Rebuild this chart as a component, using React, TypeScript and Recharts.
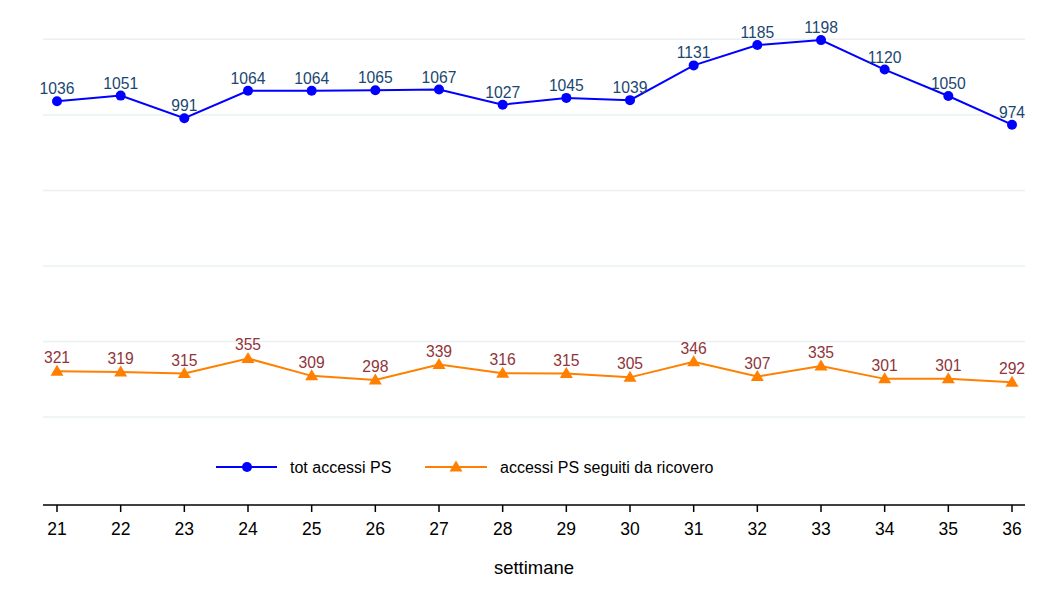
import React from 'react';
import { LineChart, Line, XAxis, YAxis, CartesianGrid, Legend, LabelList } from 'recharts';

const weeks = ['21', '22', '23', '24', '25', '26', '27', '28', '29', '30', '31', '32', '33', '34', '35', '36'];
const totAccessi = [1036, 1051, 991, 1064, 1064, 1065, 1067, 1027, 1045, 1039, 1131, 1185, 1198, 1120, 1050, 974];
const accessiRicovero = [321, 319, 315, 355, 309, 298, 339, 316, 315, 305, 346, 307, 335, 301, 301, 292];
const gridTicks = [200, 400, 600, 800, 1000, 1200];
const seriesNames = ['tot accessi PS', 'accessi PS seguiti da ricovero'];
const xTitle = 'settimane';

const data = weeks.map((w, i) => ({ week: w, tot: totAccessi[i], ric: accessiRicovero[i] }));

const BLUE = '#0000ff';
const ORANGE = '#ff8000';
const FONT = '"Liberation Sans", Arial, Helvetica, sans-serif';

const Triangle = (props: any) => {
  const { cx, cy, index } = props;
  if (cx == null || cy == null) return null;
  return (
    <path
      key={`tri-${index}`}
      d={`M${cx},${cy - 6.5} L${cx + 6.5},${cy + 4.5} L${cx - 6.5},${cy + 4.5} Z`}
      fill={ORANGE}
    />
  );
};

const renderLegend = () => (
  <svg width={540} height={30} style={{ display: 'block', overflow: 'visible' }}>
    <line x1={8} y1={15} x2={69} y2={15} stroke={BLUE} strokeWidth={2} />
    <circle cx={39} cy={15} r={5} fill={BLUE} />
    <text x={82} y={15} dy="0.35em" fontSize={16} fontFamily={FONT} fill="#000">
      {seriesNames[0]}
    </text>
    <line x1={217} y1={15} x2={279} y2={15} stroke={ORANGE} strokeWidth={2} />
    <path d={`M248,8.5 L254.5,19.5 L241.5,19.5 Z`} fill={ORANGE} />
    <text x={292} y={15} dy="0.35em" fontSize={16} fontFamily={FONT} fill="#000">
      {seriesNames[1]}
    </text>
  </svg>
);

export default function App() {
  return (
    <div style={{ fontFamily: FONT }}>
      <LineChart
        width={1036}
        height={584}
        data={data}
        margin={{ top: 17, right: 19, bottom: 17, left: 35 }}
      >
        <CartesianGrid
          vertical={false}
          horizontalValues={gridTicks}
          syncWithTicks={false}
          stroke="#eaf0f2"
          strokeWidth={1.5}
        />
        <YAxis
          type="number"
          domain={[-33, 1238]}
          ticks={gridTicks}
          width={0}
          hide
        />
        <XAxis
          dataKey="week"
          type="category"
          padding={{ left: 14, right: 13 }}
          height={70}
          axisLine={{ stroke: '#000', strokeWidth: 1.5 }}
          tickLine={{ stroke: '#000', strokeWidth: 1.5 }}
          tickSize={7}
          tickMargin={11}
          tick={{ fontSize: 17.5, fill: '#000', fontFamily: FONT }}
          interval={0}
          label={{ value: xTitle, position: 'insideBottom', offset: 1, fontSize: 18.5, fill: '#000', fontFamily: FONT }}
        />
        <Legend
          layout="horizontal"
          verticalAlign="bottom"
          align="left"
          wrapperStyle={{ left: 200, top: 444, width: 0, height: 0, overflow: 'visible' }}
          content={renderLegend}
        />
        <Line
          type="linear"
          dataKey="tot"
          stroke={BLUE}
          strokeWidth={2}
          dot={{ r: 5, fill: BLUE, stroke: BLUE, strokeWidth: 0 }}
          activeDot={false}
          isAnimationActive={false}
        >
          <LabelList dataKey="tot" position="top" offset={7} fill="#1a476f" fontSize={15.7} fontFamily={FONT} />
        </Line>
        <Line
          type="linear"
          dataKey="ric"
          stroke={ORANGE}
          strokeWidth={2}
          dot={Triangle}
          activeDot={false}
          isAnimationActive={false}
        >
          <LabelList dataKey="ric" position="top" offset={8} fill="#90353b" fontSize={15.7} fontFamily={FONT} />
        </Line>
      </LineChart>
    </div>
  );
}
